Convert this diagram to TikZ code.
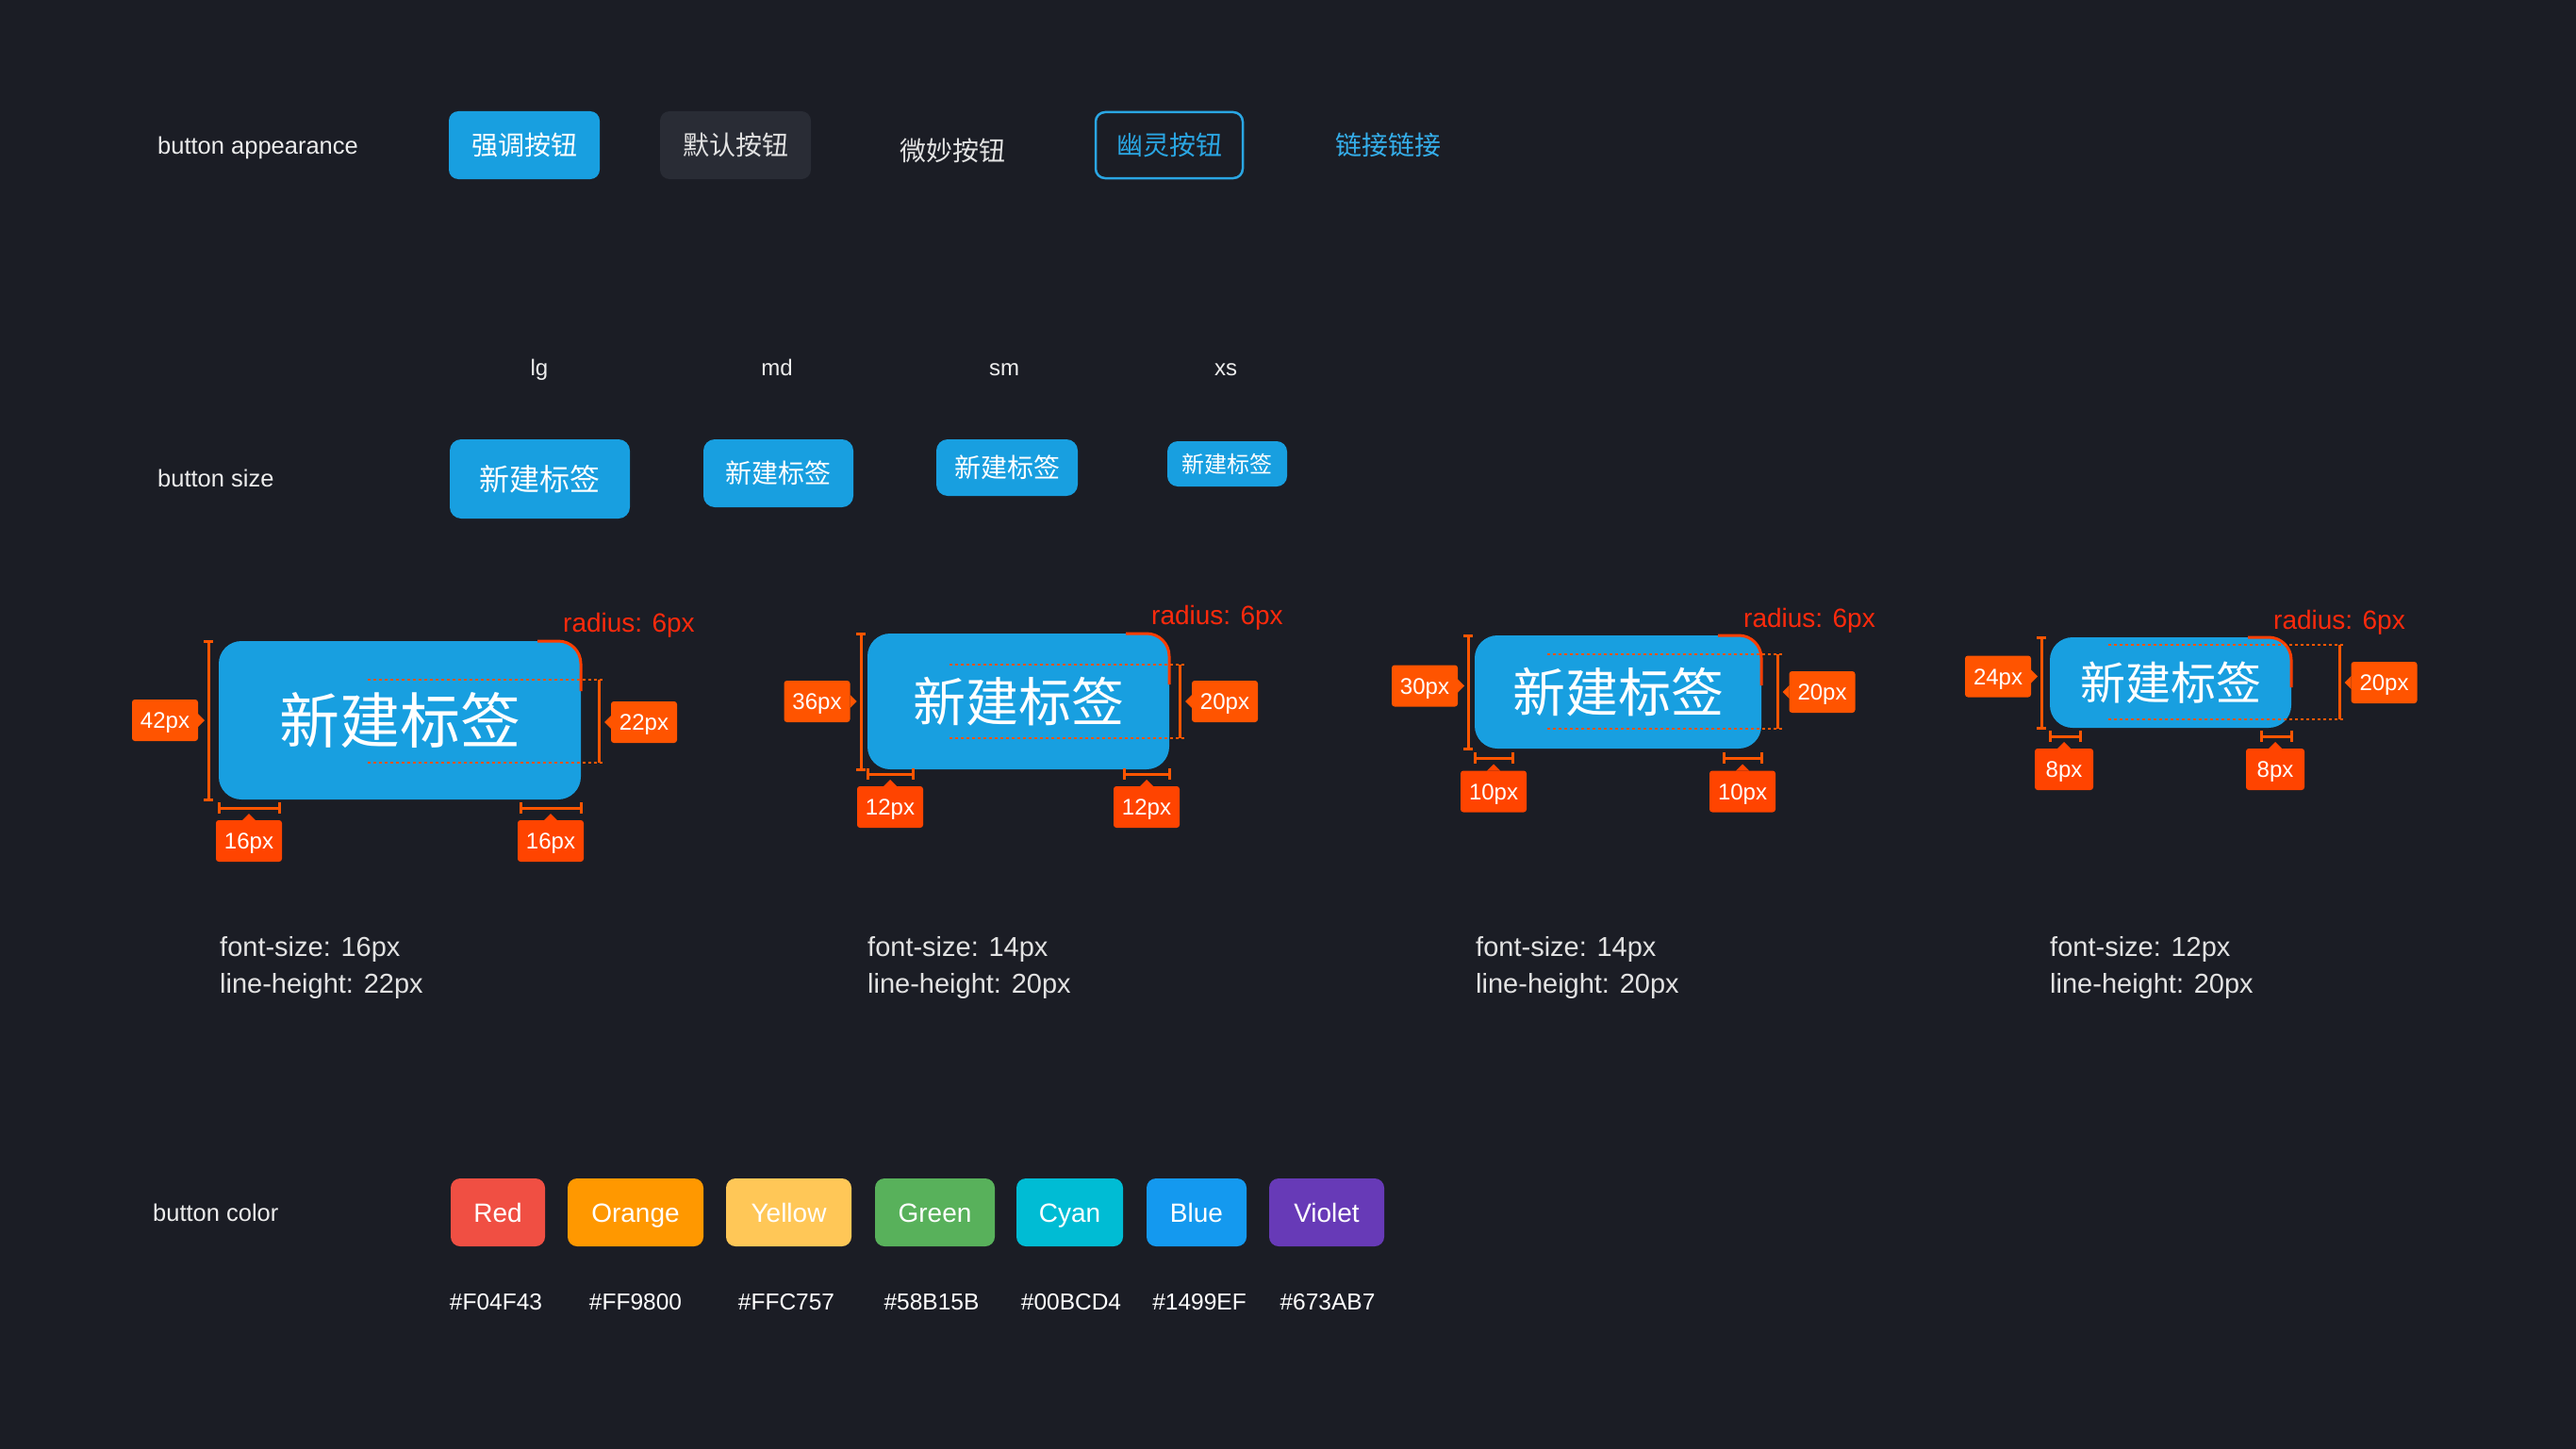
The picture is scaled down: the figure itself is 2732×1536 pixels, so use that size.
\documentclass[tikz,border=0pt]{standalone}
\usepackage{fontspec}
\setmainfont{Liberation Sans}
\newfontfamily\cjk{Noto Sans CJK SC}

\definecolor{bg}{HTML}{1B1D25}
\definecolor{primary}{HTML}{189FE0}
\definecolor{defaultbtn}{HTML}{292C35}
\definecolor{ghost}{HTML}{2AA6E3}
\definecolor{linkblue}{HTML}{35AEEA}
\definecolor{labelgray}{HTML}{EDEDED}
\definecolor{softwhite}{HTML}{E2E2E2}
\definecolor{tagside}{HTML}{FF5400}
\definecolor{tagbottom}{HTML}{FF4400}
\definecolor{dimcol}{HTML}{FF5500}
\definecolor{radiustext}{HTML}{FF2A0C}
\definecolor{radiusarc}{HTML}{FF3E00}
\definecolor{cRed}{HTML}{F04F43}
\definecolor{cOrange}{HTML}{FF9800}
\definecolor{cYellow}{HTML}{FFC757}
\definecolor{cGreen}{HTML}{58B15B}
\definecolor{cCyan}{HTML}{00BCD4}
\definecolor{cBlue}{HTML}{1499EF}
\definecolor{cViolet}{HTML}{673AB7}

\tikzset{
  % CJK text, vertically centred on the ideograph body
  zh/.code={%
    \pgfmathsetmacro\zhht{0.76*#1}%
    \edef\zhtmp{\noexpand\pgfkeysalso{text height=\zhht pt}}\zhtmp
    \pgfkeysalso{font=\cjk\fontsize{#1}{#1}\selectfont, text depth=0pt}},
  % Latin text, vertically centred on the cap height
  lat/.code={%
    \pgfmathsetmacro\latht{0.72*#1}%
    \edef\lattmp{\noexpand\pgfkeysalso{text height=\latht pt}}\lattmp
    \pgfkeysalso{font=\fontsize{#1}{#1}\selectfont, text depth=0pt}},
  btn/.style={inner sep=0pt, outer sep=0pt},
  lbl/.style={anchor=base west, inner sep=0pt, text=labelgray, font=\fontsize{25.5}{25.5}\selectfont},
  sizelbl/.style={anchor=base, inner sep=0pt, text=labelgray, font=\fontsize{24}{24}\selectfont},
  note/.style={anchor=base west, inner sep=0pt, text=softwhite, font=\fontsize{29}{29}\selectfont},
  radiuslbl/.style={anchor=base west, inner sep=0pt, text=radiustext, font=\fontsize{28}{28}\selectfont},
  tag/.style={btn, text=white, rounded corners=3pt, minimum height=44, lat=24},
  sidetag/.style={tag, fill=tagside, minimum width=70},
  bottomtag/.style={tag, fill=tagbottom, minimum width=70},
  dim/.style={draw=dimcol, line width=3pt},
  guide/.style={draw=dimcol, line width=2.5pt, dash pattern=on 2.5pt off 3.5pt},
  radiusmark/.style={draw=radiusarc, line width=3pt},
  bigbtn/.style={btn, fill=primary, text=white, rounded corners=24pt},
  colorbtn/.style={btn, rounded corners=10pt, minimum height=72, text=white, lat=28},
  hex/.style={anchor=base, inner sep=0pt, text=white, font=\fontsize{24.5}{24.5}\selectfont},
}

\begin{document}
\begin{tikzpicture}[x=1pt,y=-1pt]
\useasboundingbox (0,0) rectangle (2732,1536);
\fill[bg] (-10,-10) rectangle (2742,1546);

% ---------------- button appearance ----------------
\node[lbl] (lappear) at (167,163) {button appearance};
\node[btn, fill=primary, rounded corners=10pt, minimum width=160, minimum height=72, zh=28, text=white]
  (bprimary) at (556,154) {强调按钮};
\node[btn, fill=defaultbtn, rounded corners=10pt, minimum width=160, minimum height=72, zh=28, text=softwhite]
  (bdefault) at (780,154) {默认按钮};
\node[btn, zh=28, text=softwhite] (bsubtle) at (1010,159.5) {微妙按钮};
\node[btn, draw=ghost, line width=2.5pt, rounded corners=10pt, minimum width=156, minimum height=70, zh=28, text=ghost]
  (bghost) at (1240,154) {幽灵按钮};
\node[btn, zh=28, text=linkblue] (blink) at (1472,154) {链接链接};

% ---------------- button size ----------------
\node[lbl] (lsize) at (167,516) {button size};
\node[sizelbl] (tlg) at (572,398) {lg};
\node[sizelbl] (tmd) at (824,398) {md};
\node[sizelbl] (tsm) at (1065,398) {sm};
\node[sizelbl] (txs) at (1300,398) {xs};

\node[btn, fill=primary, rounded corners=12pt, minimum width=191, minimum height=84, zh=32, text=white]
  (slg) at (572.5,508) {新建标签};
\node[btn, fill=primary, rounded corners=12pt, minimum width=159, minimum height=72, zh=28, text=white]
  (smd) at (825.5,502) {新建标签};
\node[btn, fill=primary, rounded corners=12pt, minimum width=150, minimum height=60, zh=28, text=white]
  (ssm) at (1068,496) {新建标签};
\node[btn, fill=primary, rounded corners=11pt, minimum width=127, minimum height=48, zh=24, text=white]
  (sxs) at (1301.5,492) {新建标签};

% ---------------- lg anatomy ----------------
\node[bigbtn, minimum width=384, minimum height=168, zh=64] (alg) at (424,764) {新建标签};
\draw[radiusmark, rounded corners=24pt] (570,680) -- (616,680) -- (616,733);
\node[radiuslbl] (rlg) at (597,670) {radius: 6px};
\draw[dim] (216,680) -- (226,680) (221,680) -- (221,848) (216,848) -- (226,848);
\node[sidetag] (hlg) at (175,764) {42px};
\fill[tagside] (hlg.east) ++(0,-7) -- ++(7,7) -- ++(-7,7) -- cycle;
\draw[guide] (390,721) -- (640,721) (390,809) -- (640,809);
\draw[dim] (635,721) -- (635,809);
\node[sidetag] (lhlg) at (683,766) {22px};
\fill[tagside] (lhlg.west) ++(0,-7) -- ++(-7,7) -- ++(7,7) -- cycle;
\draw[dim] (232,851) -- (232,863) (232,857) -- (296,857) (296,851) -- (296,863);
\draw[dim] (552,851) -- (552,863) (552,857) -- (616,857) (616,851) -- (616,863);
\node[bottomtag] (plg1) at (264,892) {16px};
\fill[tagbottom] (plg1.north) ++(-7,0) -- ++(7,-7) -- ++(7,7) -- cycle;
\node[bottomtag] (plg2) at (584,892) {16px};
\fill[tagbottom] (plg2.north) ++(-7,0) -- ++(7,-7) -- ++(7,7) -- cycle;
\node[note] (flg) at (233,1014) {font-size: 16px};
\node[note] (llg) at (233,1053) {line-height: 22px};

% ---------------- md anatomy ----------------
\node[bigbtn, minimum width=320, minimum height=144, zh=56] (amd) at (1080,744) {新建标签};
\draw[radiusmark, rounded corners=24pt] (1194,672) -- (1240,672) -- (1240,726);
\node[radiuslbl] (rmd) at (1221,662) {radius: 6px};
\draw[dim] (908,672) -- (918,672) (913,672) -- (913,816) (908,816) -- (918,816);
\node[sidetag] (hmd) at (866.5,744) {36px};
\fill[tagside] (hmd.east) ++(0,-7) -- ++(7,7) -- ++(-7,7) -- cycle;
\draw[guide] (1007,705) -- (1257,705) (1007,783) -- (1257,783);
\draw[dim] (1251,705) -- (1251,783);
\node[sidetag] (lhmd) at (1299,744) {20px};
\fill[tagside] (lhmd.west) ++(0,-7) -- ++(-7,7) -- ++(7,7) -- cycle;
\draw[dim] (920,815) -- (920,827) (920,821) -- (968,821) (968,815) -- (968,827);
\draw[dim] (1192,815) -- (1192,827) (1192,821) -- (1240,821) (1240,815) -- (1240,827);
\node[bottomtag] (pmd1) at (944,856) {12px};
\fill[tagbottom] (pmd1.north) ++(-7,0) -- ++(7,-7) -- ++(7,7) -- cycle;
\node[bottomtag] (pmd2) at (1216,856) {12px};
\fill[tagbottom] (pmd2.north) ++(-7,0) -- ++(7,-7) -- ++(7,7) -- cycle;
\node[note] (fmd) at (920,1014) {font-size: 14px};
\node[note] (lmd) at (920,1053) {line-height: 20px};

% ---------------- sm anatomy ----------------
\node[bigbtn, minimum width=304, minimum height=120, zh=56] (asm) at (1716,734) {新建标签};
\draw[radiusmark, rounded corners=24pt] (1822,674) -- (1868,674) -- (1868,727);
\node[radiuslbl] (rsm) at (1849,665) {radius: 6px};
\draw[dim] (1552,674) -- (1562,674) (1557,674) -- (1557,794) (1552,794) -- (1562,794);
\node[sidetag] (hsm) at (1511,727.5) {30px};
\fill[tagside] (hsm.east) ++(0,-7) -- ++(7,7) -- ++(-7,7) -- cycle;
\draw[guide] (1641,694) -- (1891,694) (1641,773) -- (1891,773);
\draw[dim] (1885,694) -- (1885,773);
\node[sidetag] (lhsm) at (1932.5,734) {20px};
\fill[tagside] (lhsm.west) ++(0,-7) -- ++(-7,7) -- ++(7,7) -- cycle;
\draw[dim] (1564,798) -- (1564,810) (1564,804) -- (1604,804) (1604,798) -- (1604,810);
\draw[dim] (1828,798) -- (1828,810) (1828,804) -- (1868,804) (1868,798) -- (1868,810);
\node[bottomtag] (psm1) at (1584,839.5) {10px};
\fill[tagbottom] (psm1.north) ++(-7,0) -- ++(7,-7) -- ++(7,7) -- cycle;
\node[bottomtag] (psm2) at (1848,839.5) {10px};
\fill[tagbottom] (psm2.north) ++(-7,0) -- ++(7,-7) -- ++(7,7) -- cycle;
\node[note] (fsm) at (1565,1014) {font-size: 14px};
\node[note] (lsm) at (1565,1053) {line-height: 20px};

% ---------------- xs anatomy ----------------
\node[bigbtn, minimum width=256, minimum height=96, zh=48] (axs) at (2302,724) {新建标签};
\draw[radiusmark, rounded corners=24pt] (2384,676) -- (2430,676) -- (2430,729);
\node[radiuslbl] (rxs) at (2411,667) {radius: 6px};
\draw[dim] (2160,676) -- (2170,676) (2165,676) -- (2165,772) (2160,772) -- (2170,772);
\node[sidetag] (hxs) at (2119,717.5) {24px};
\fill[tagside] (hxs.east) ++(0,-7) -- ++(7,7) -- ++(-7,7) -- cycle;
\draw[guide] (2236,684) -- (2487,684) (2236,763) -- (2487,763);
\draw[dim] (2481,684) -- (2481,763);
\node[sidetag] (lhxs) at (2528.5,724) {20px};
\fill[tagside] (lhxs.west) ++(0,-7) -- ++(-7,7) -- ++(7,7) -- cycle;
\draw[dim] (2174,775) -- (2174,787) (2174,781) -- (2206,781) (2206,775) -- (2206,787);
\draw[dim] (2398,775) -- (2398,787) (2398,781) -- (2430,781) (2430,775) -- (2430,787);
\node[bottomtag, minimum width=62] (pxs1) at (2189,816) {8px};
\fill[tagbottom] (pxs1.north) ++(-7,0) -- ++(7,-7) -- ++(7,7) -- cycle;
\node[bottomtag, minimum width=62] (pxs2) at (2413,816) {8px};
\fill[tagbottom] (pxs2.north) ++(-7,0) -- ++(7,-7) -- ++(7,7) -- cycle;
\node[note] (fxs) at (2174,1014) {font-size: 12px};
\node[note] (lxs) at (2174,1053) {line-height: 20px};

% ---------------- button color ----------------
\node[lbl] (lcolor) at (162,1295) {button color};
\node[colorbtn, fill=cRed, minimum width=100] (cred) at (528,1286) {Red};
\node[colorbtn, fill=cOrange, minimum width=144] (corange) at (674,1286) {Orange};
\node[colorbtn, fill=cYellow, minimum width=133] (cyellow) at (836.5,1286) {Yellow};
\node[colorbtn, fill=cGreen, minimum width=127] (cgreen) at (991.5,1286) {Green};
\node[colorbtn, fill=cCyan, minimum width=113] (ccyan) at (1134.5,1286) {Cyan};
\node[colorbtn, fill=cBlue, minimum width=106] (cblue) at (1269,1286) {Blue};
\node[colorbtn, fill=cViolet, minimum width=122] (cviolet) at (1407,1286) {Violet};

\node[hex] (hred) at (526,1389) {\#F04F43};
\node[hex] (horange) at (674,1389) {\#FF9800};
\node[hex] (hyellow) at (834,1389) {\#FFC757};
\node[hex] (hgreen) at (988,1389) {\#58B15B};
\node[hex] (hcyan) at (1136,1389) {\#00BCD4};
\node[hex] (hblue) at (1272,1389) {\#1499EF};
\node[hex] (hviolet) at (1408,1389) {\#673AB7};
\end{tikzpicture}
\end{document}
